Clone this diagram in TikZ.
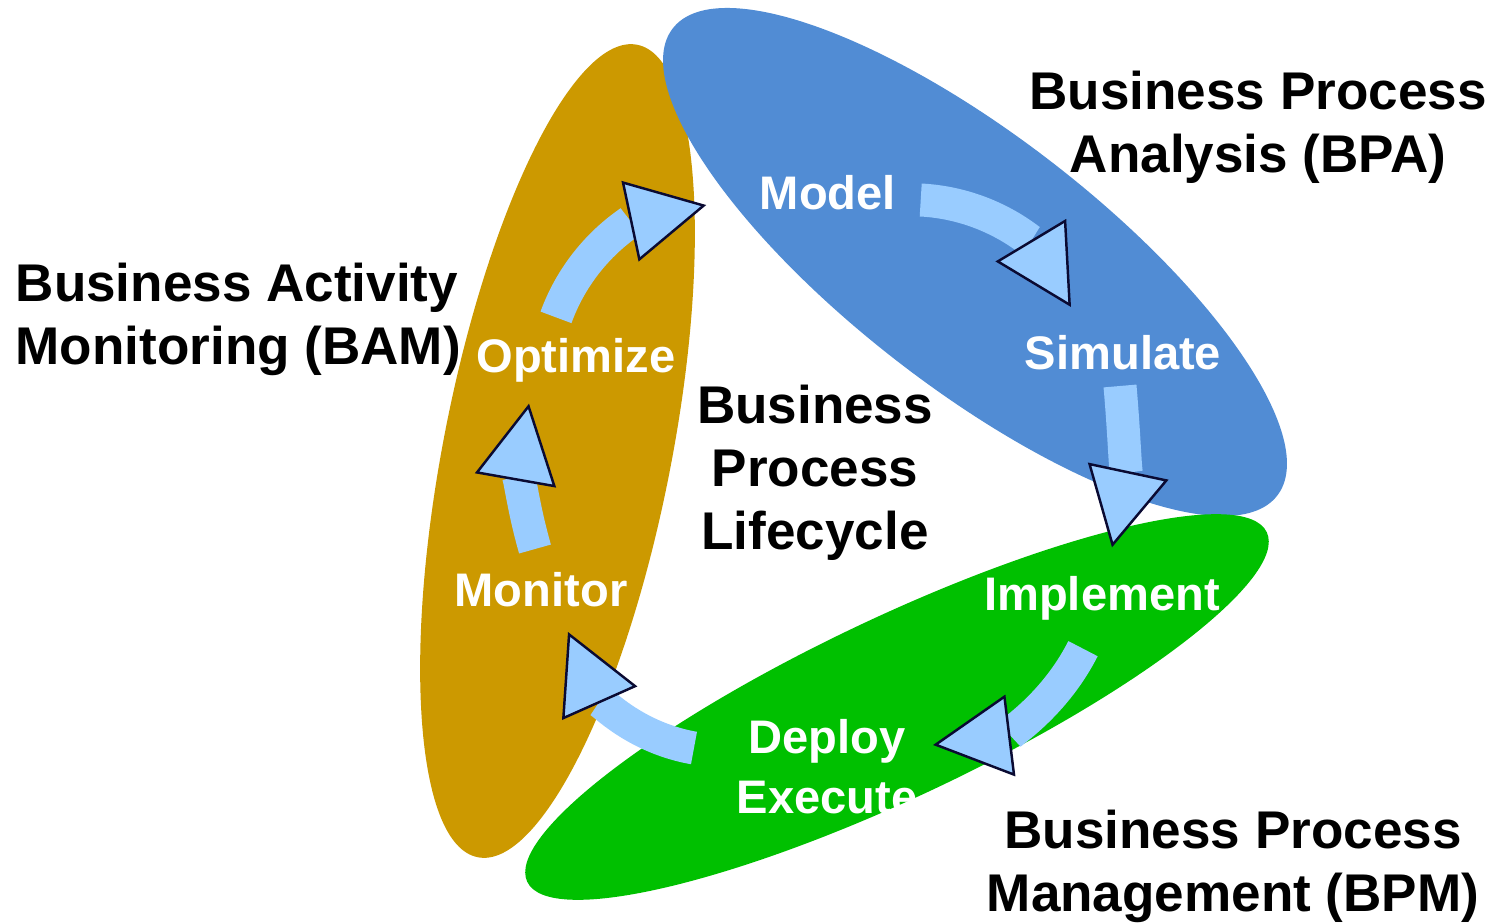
\documentclass[tikz,border=0pt]{standalone}
\usepackage{fontspec}
\setmainfont{Liberation Sans}
\usepackage{tikz}
\usetikzlibrary{arrows.meta}
\definecolor{bamgold}{RGB}{204,153,0}
\definecolor{bpablue}{RGB}{81,140,212}
\definecolor{bpmgreen}{RGB}{0,192,0}
\definecolor{flowfill}{RGB}{153,204,255}
\definecolor{flowedge}{RGB}{10,10,50}

\begin{document}
\begin{tikzpicture}[x=1mm, y=1mm,
    stage/.style={text=white, font=\bfseries\fontsize{13.4}{17}\selectfont, inner sep=0pt, align=center},
    title/.style={text=black, font=\bfseries\fontsize{15.1}{17.9}\selectfont, inner sep=0pt, align=center},
    flow/.style={draw=flowfill, line width=3.3mm, -{Triangle[length=7.8mm, width=8.2mm, line width'=0.7pt, color=flowedge, fill=flowfill]}}]
    \useasboundingbox (0,0) rectangle (149.2,92.3);
    % Ellipses
    \fill[bamgold] (55.75,47.2) ellipse[x radius=41.4mm, y radius=11.4mm, rotate=78.9];
    \fill[bpablue] (97.5,66.1) ellipse[x radius=38.2mm, y radius=12.6mm, rotate=-37.7];
    \fill[bpmgreen] (89.7,21.6) ellipse[x radius=40.9mm, y radius=9.0mm, rotate=25.3];
    % Stages
    \node[stage] (model) at (82.8,73.0) {Model};
    \node[stage] (simulate) at (112.3,57.0) {Simulate};
    \node[stage] (implement) at (110.2,32.5) {Implement};
    \node[stage] (deploy) at (82.7,15.6) {Deploy\\Execute};
    \node[stage] (monitor) at (54.1,33.3) {Monitor};
    \node[stage] (optimize) at (57.6,56.3) {Optimize};
    % Titles
    \node[title] (bpa) at (125.8,79.6) {Business Process\\Analysis (BPA)};
    \node[title, anchor=west, align=left] (bam) at (1.5,60.4) {Business Activity\\Monitoring (BAM)};
    \node[title] (lifecycle) at (81.5,45.0) {Business\\Process\\Lifecycle};
    \node[title] (bpm) at (123.3,5.7) {Business Process\\Management (BPM)};
    % Arrows
    \draw[flow] ([shift={(2.4,-0.7)}]model.east) to[out=-3, in=121] ([shift={(-5.2,2.8)}]simulate.north);
    \draw[flow] ([shift={(-0.3,-1.5)}]simulate.south) to[out=-85, in=78] ([shift={(1.0,2.8)}]implement.north);
    \draw[flow] ([shift={(-1.9,-2.8)}]implement.south) to[out=-117, in=7] ([shift={(1.5,2.2)}]deploy.east);
    \draw[flow] ([shift={(-4.2,1.9)}]deploy.west) to[out=170, in=-66] ([shift={(2.7,-2.4)}]monitor.south);
    \draw[flow] ([shift={(-0.6,2.3)}]monitor.north) to[out=106, in=-100] ([shift={(-4.7,-2.1)}]optimize.south);
    \draw[flow] ([shift={(-2.0,2.0)}]optimize.north) to[out=70, in=-168] ([shift={(-5.3,-1.2)}]model.west);
\end{tikzpicture}
\end{document}
